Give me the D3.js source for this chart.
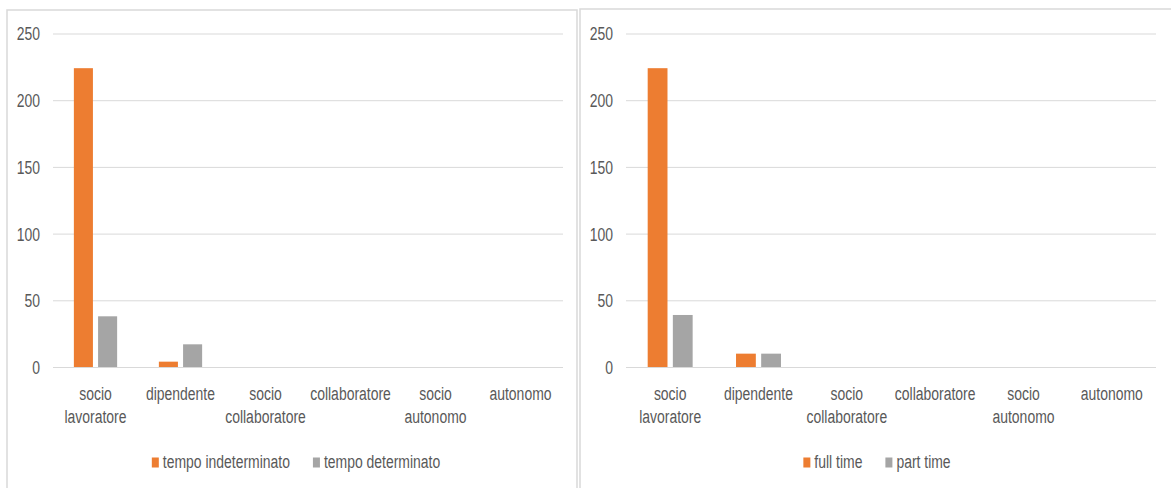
<!DOCTYPE html>
<html>
<head>
<meta charset="utf-8">
<script src="https://cdn.jsdelivr.net/npm/d3@7"></script>
<style>
  html, body { margin: 0; padding: 0; background: #fff; overflow: hidden; }
  svg text { font-family: "Liberation Sans", Arial, sans-serif; fill: #595959; }
</style>
</head>
<body>
<svg id="chart" width="1171" height="488"></svg>
<script>
// categories shared by both charts
const categories = ["socio lavoratore", "dipendente", "socio collaboratore", "collaboratore", "socio autonomo", "autonomo"];
const yTicks = [0, 50, 100, 150, 200, 250];

// left chart: contract type
const contractSeries = ["tempo indeterminato", "tempo determinato"];
const indeterminato = [224, 4, 0, 0, 0, 0];
const determinato = [38, 17, 0, 0, 0, 0];

// right chart: working time
const timeSeries = ["full time", "part time"];
const fullTime = [224, 10, 0, 0, 0, 0];
const partTime = [39, 10, 0, 0, 0, 0];

const colors = ["#ED7D31", "#A5A5A5"];
const fontSize = 18;
const squeeze = 0.775; // no narrow font installed, so squeeze the text horizontally

const svg = d3.select("#chart");

const draw = (cfg) => {
    const g = svg.append("g");

    // chart area frame
    g.append("rect")
        .attr("x", cfg.frame.x)
        .attr("y", cfg.frame.y)
        .attr("width", cfg.frame.w)
        .attr("height", cfg.frame.h)
        .attr("fill", "#fff")
        .attr("stroke", "#D9D9D9")
        .attr("stroke-width", 1.5);

    const plotW = cfg.plot.right - cfg.plot.left;

    const x = d3.scaleBand()
        .domain(categories)
        .range([cfg.plot.left, cfg.plot.right])
        .paddingInner(2.19 / 4.46)
        .paddingOuter(2.19 / 4.46 / 2);

    const xs = d3.scaleBand()
        .domain(cfg.series)
        .range([0, x.bandwidth()])
        .paddingInner(0.27 / 1.27);

    const y = d3.scaleLinear()
        .domain([0, 250])
        .range([cfg.plot.bottom, cfg.plot.top]);

    // gridlines + y labels
    const yAxis = g.append("g")
        .attr("transform", "translate(" + cfg.plot.left + ",0)")
        .call(d3.axisLeft(y).tickValues(yTicks).tickSize(-plotW).tickPadding(13));
    yAxis.select(".domain").remove();
    yAxis.selectAll("line").attr("stroke", "#D9D9D9").attr("stroke-width", 1);
    yAxis.selectAll("text")
        .attr("font-size", fontSize)
        .attr("font-family", null)
        .attr("x", -13 / squeeze)
        .attr("dy", "0.36em")
        .attr("transform", "scale(" + squeeze + ",1)");

    // bars
    const rows = categories.map((c, i) => ({ cat: c, vals: cfg.values.map(v => v[i]) }));
    const grp = g.selectAll(".cat")
        .data(rows)
        .enter()
        .append("g")
        .attr("transform", d => "translate(" + x(d.cat) + ",0)");
    grp.selectAll("rect")
        .data(d => d.vals.map((v, j) => ({ key: cfg.series[j], value: v, j: j })))
        .enter()
        .append("rect")
        .attr("x", d => xs(d.key))
        .attr("y", d => y(d.value))
        .attr("width", xs.bandwidth())
        .attr("height", d => y(0) - y(d.value))
        .attr("fill", d => colors[d.j]);

    // category labels, wrapped on the space like Excel does
    const xAxis = g.append("g")
        .attr("transform", "translate(0," + cfg.plot.bottom + ")")
        .call(d3.axisBottom(x).tickSize(0));
    xAxis.select(".domain").remove();
    xAxis.selectAll("text")
        .attr("font-size", fontSize)
        .attr("font-family", null)
        .attr("y", 33)
        .attr("dy", null)
        .attr("transform", "scale(" + squeeze + ",1)")
        .each(function (d) {
            const t = d3.select(this).text("");
            d.split(" ").forEach((w, k) => {
                t.append("tspan").attr("x", 0).attr("dy", k === 0 ? 0 : 23.5).text(w);
            });
        });

    // legend
    const leg = g.append("g");
    const items = leg.selectAll(".item")
        .data(cfg.series)
        .enter()
        .append("g");
    items.append("rect")
        .attr("width", 7)
        .attr("height", 10)
        .attr("y", -10)
        .attr("fill", (d, i) => colors[i]);
    items.append("text")
        .attr("x", 11 / squeeze)
        .attr("font-size", fontSize)
        .attr("transform", "scale(" + squeeze + ",1)")
        .text(d => d);
    let off = 0;
    items.each(function () {
        const w = 11 + this.querySelector("text").getComputedTextLength() * squeeze;
        d3.select(this).attr("transform", "translate(" + off + ",0)");
        off += w + 23;
    });
    off -= 23;
    leg.attr("transform", "translate(" + (cfg.legendCx - off / 2) + "," + cfg.legendY + ")");
};

draw({
    frame: { x: 7, y: 10, w: 570, h: 500 },
    plot: { left: 53, right: 563, top: 33.5, bottom: 367 },
    series: contractSeries,
    values: [indeterminato, determinato],
    legendCx: 296,
    legendY: 467.5
});

draw({
    frame: { x: 580, y: 9, w: 600, h: 500 },
    plot: { left: 626, right: 1156, top: 33.5, bottom: 367 },
    series: timeSeries,
    values: [fullTime, partTime],
    legendCx: 877,
    legendY: 467.5
});
</script>
</body>
</html>
